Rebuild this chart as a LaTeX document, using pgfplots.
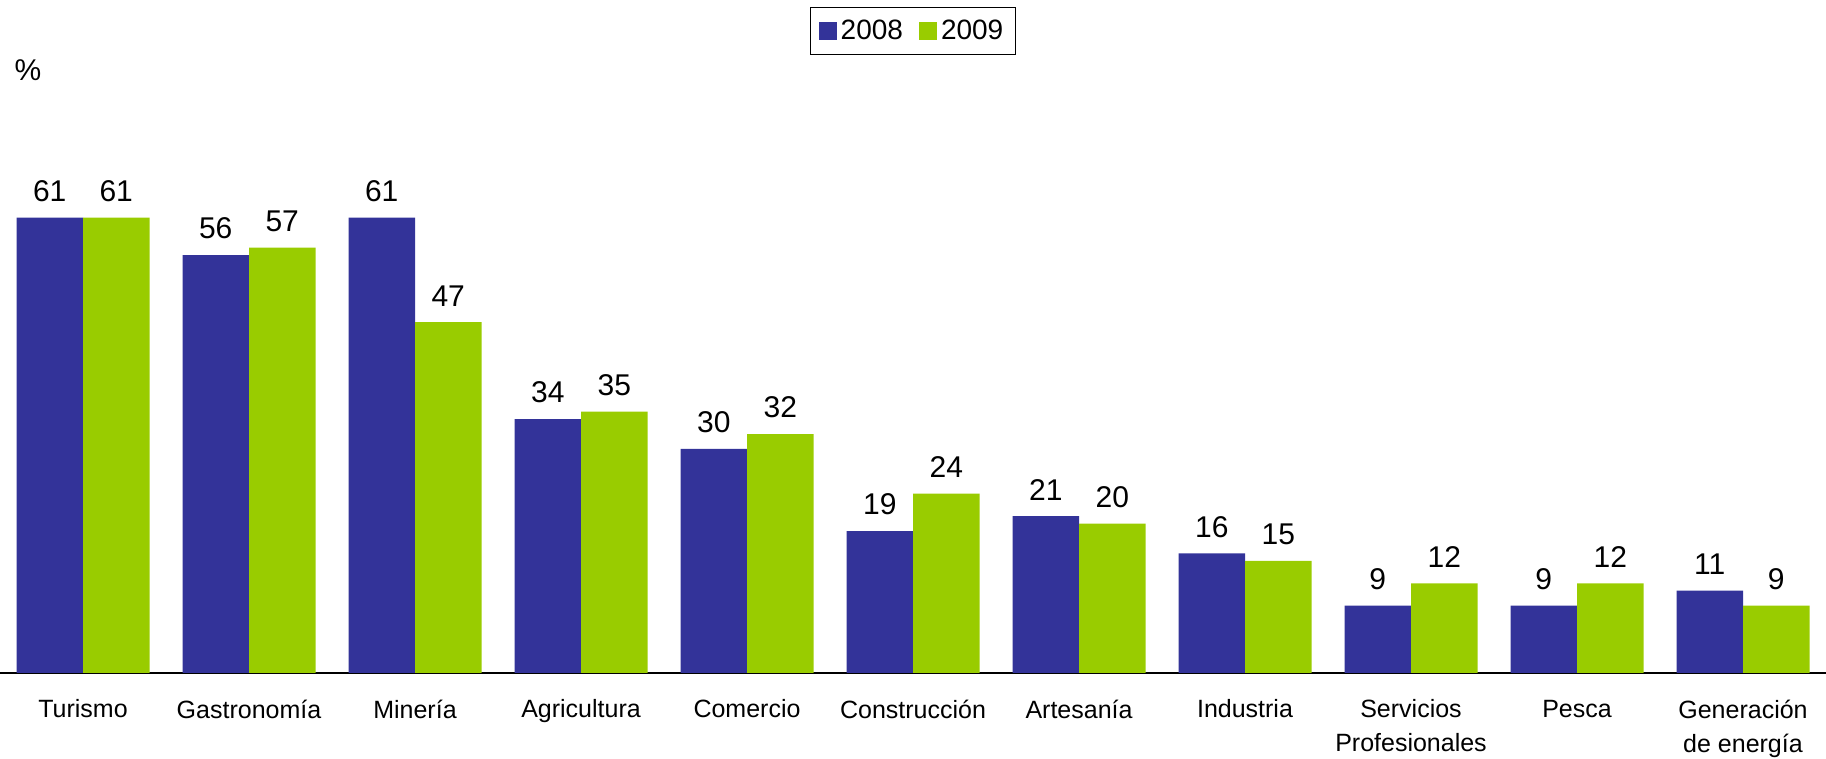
\documentclass[border=0pt]{standalone}
\usepackage{pgfplots}
\pgfplotsset{compat=1.18}
\usepackage{fontspec}
\setmainfont{Liberation Sans}
\definecolor{cblue}{RGB}{51,51,153}
\definecolor{cgreen}{RGB}{153,204,0}
\begin{document}
\begin{tikzpicture}
\begin{axis}[name=ax, scale only axis, width=913pt, height=298.4pt,
  xmin=-0.5, xmax=10.5, ymin=0, ymax=80,
  ybar=0pt, bar width=33.25pt,
  /pgf/number format/assume math mode=true,
  axis x line=bottom, axis y line=none,
  axis line style={-, line width=1pt, black},
  xtick={0,...,10},
  xticklabels={Turismo, Gastronomía, Minería, Agricultura, Comercio, Construcción, Artesanía, Industria, {Servicios\\Profesionales}, Pesca, {Generación\\de energía}},
  major tick length=0pt,
  xticklabel style={font=\fontsize{12.5}{17}\selectfont, align=center, anchor=north, yshift=-10pt},
  nodes near coords,
  every node near coord/.append style={font=\fontsize{15}{18}\selectfont, black, yshift=4.5pt},
  legend columns=-1,
  legend style={at={(0.5,1)}, anchor=center, yshift=22.5pt, draw=black, line width=0.75pt,
    font=\fontsize{14}{16}\selectfont, inner xsep=4pt, inner ysep=4pt,
    /tikz/every even column/.append style={column sep=6pt}},
]
\addplot[fill=cblue, draw=none, legend image code/.code={\fill[cblue] (0pt,-4.5pt) rectangle (9pt,4.5pt);}] coordinates {(0,61) (1,56) (2,61) (3,34) (4,30) (5,19) (6,21) (7,16) (8,9) (9,9) (10,11)};
\addplot[fill=cgreen, draw=none, legend image code/.code={\fill[cgreen] (0pt,-4.5pt) rectangle (9pt,4.5pt);}] coordinates {(0,61) (1,57) (2,47) (3,35) (4,32) (5,24) (6,20) (7,15) (8,12) (9,12) (10,9)};
\legend{2008, 2009}
\end{axis}
\node[font=\fontsize{15}{18}\selectfont] at ([xshift=14pt, yshift=3pt]ax.north west) {\%};
\pgfresetboundingbox
\path[use as bounding box] ([yshift=-43pt]ax.south west) rectangle ([yshift=38pt]ax.north east);
\end{tikzpicture}
\end{document}
